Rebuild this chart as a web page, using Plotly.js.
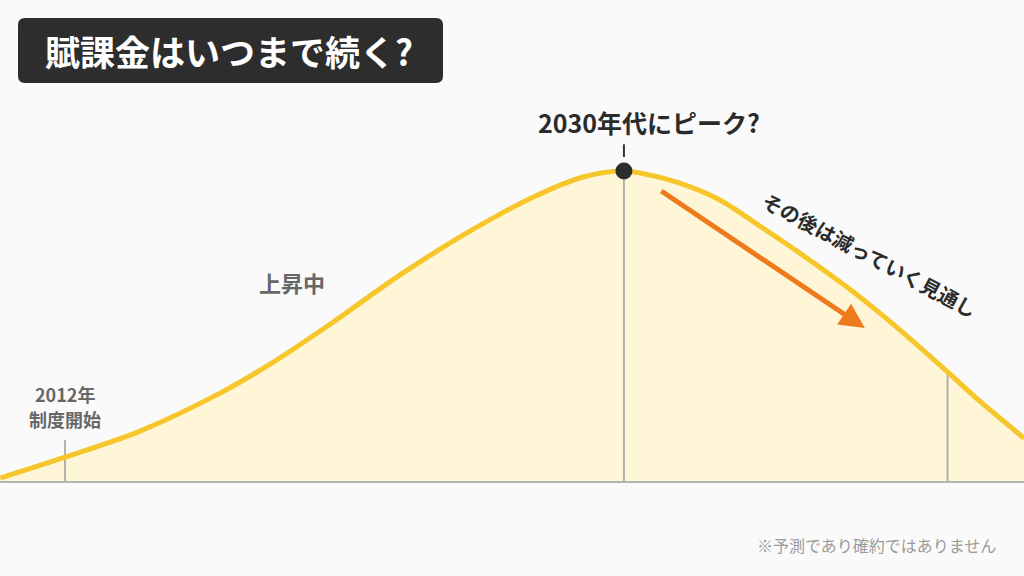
<!DOCTYPE html>
<html>
<head>
<meta charset="utf-8">
<script src="https://cdn.plot.ly/plotly-3.0.1.min.js"></script>
<style>
  html, body { margin: 0; padding: 0; background: #FAFAFA; }
  #chart { width: 1024px; height: 576px; }
</style>
</head>
<body>
<div id="chart"></div>
<script>
// ---- data ----
const years  = [2009.8, 2012.0, 2014.55, 2017.27, 2018.97, 2021.11, 2023.39, 2025.66, 2027.91, 2029.61, 2031.0, 2031.88, 2032.9, 2034.26, 2035.62, 2036.98, 2038.58, 2039.7, 2040.82, 2042.0, 2043.1, 2044.6];
const levels = [1.3, 8.0, 16.4, 28.6, 37.9, 51.4, 66.6, 80.1, 91.6, 98.1, 100, 98.7, 96.1, 90.7, 82.3, 73.6, 62.7, 54.3, 45.3, 35.4, 26.0, 14.1];
const startYear = 2012;
const startLabelTop = 13.5;
const peakYear = 2031;
const peakLevel = 100;
const laterYear = 2042;
const laterLevel = 35.4;

const titleText  = '賦課金はいつまで続く?';
const peakText   = '2030年代にピーク?';
const riseText   = '上昇中';
const startText1 = '2012年';
const startText2 = '制度開始';
const fallText   = 'その後は減っていく見通し';
const noteText   = '※予測であり確約ではありません';

// ---- helpers for pixel-placed decoration ----
const W = 1024, H = 576;
const X0 = 2009.79, X1 = 2044.60;   // x range
const Y0 = -30.2,  Y1 = 155.0;      // y range
const px = v => v / W;
const py = v => 1 - v / H;

function roundRect(x0, y0, x1, y1, r) {
  const p = [
    'M', px(x0 + r), py(y0),
    'L', px(x1 - r), py(y0),
    'Q', px(x1), py(y0), px(x1), py(y0 + r),
    'L', px(x1), py(y1 - r),
    'Q', px(x1), py(y1), px(x1 - r), py(y1),
    'L', px(x0 + r), py(y1),
    'Q', px(x0), py(y1), px(x0), py(y1 - r),
    'L', px(x0), py(y0 + r),
    'Q', px(x0), py(y0), px(x0 + r), py(y0),
    'Z'
  ];
  let s = '';
  for (let i = 0; i < p.length; i++) {
    const t = p[i];
    if (typeof t === 'string') s += t;
    else { s += t.toFixed(5); if (typeof p[i + 1] === 'number') s += ','; else s += ' '; }
  }
  return s;
}

const FONT = '"Noto Sans CJK JP", "Noto Sans", sans-serif';

const traces = [
  { // fill
    x: years, y: levels, type: 'scatter', mode: 'lines',
    line: { color: 'rgba(0,0,0,0)', width: 0, shape: 'spline', smoothing: 0.9 },
    fill: 'tozeroy', fillcolor: '#FEF6D6', hoverinfo: 'skip'
  },
  { // vertical guide lines
    x: [startYear, startYear, null, peakYear, peakYear, null, laterYear, laterYear],
    y: [0, startLabelTop, null, 0, peakLevel, null, 0, laterLevel],
    type: 'scatter', mode: 'lines',
    line: { color: '#ABABAB', width: 1.8 }, hoverinfo: 'skip'
  },
  { // curve line
    x: years, y: levels, type: 'scatter', mode: 'lines',
    line: { color: '#F6C62B', width: 5, shape: 'spline', smoothing: 0.9 },
    hoverinfo: 'skip'
  },
  { // small tick above peak
    x: [peakYear, peakYear], y: [104.5, 108.6], type: 'scatter', mode: 'lines',
    line: { color: '#333333', width: 2 }, hoverinfo: 'skip'
  },
  { // peak marker
    x: [peakYear], y: [peakLevel], type: 'scatter', mode: 'markers',
    marker: { color: '#2B2D2D', size: 17 }, hoverinfo: 'skip'
  }
];

const layout = {
  width: W, height: H,
  margin: { l: 0, r: 0, t: 0, b: 0, pad: 0 },
  paper_bgcolor: '#FAFAFA', plot_bgcolor: '#FAFAFA',
  showlegend: false,
  xaxis: { range: [X0, X1], visible: false, fixedrange: true },
  yaxis: { range: [Y0, Y1], visible: false, fixedrange: true },
  shapes: [
    { type: 'line', xref: 'paper', yref: 'y', x0: 0, x1: 1, y0: 0, y1: 0,
      line: { color: '#B3B3B3', width: 2 }, layer: 'above' },
    { type: 'path', xref: 'paper', yref: 'paper', path: roundRect(18, 18, 443, 83, 7),
      fillcolor: '#2D2D2D', line: { width: 0 }, layer: 'above' }
  ],
  annotations: [
    { xref: 'paper', yref: 'paper', x: px(229), y: py(51), xanchor: 'center', yanchor: 'middle',
      text: titleText, showarrow: false,
      font: { family: FONT, size: 35, color: '#FFFFFF', weight: 'bold' } },
    { xref: 'x', yref: 'paper', x: peakYear + 0.85, y: py(122), xanchor: 'center', yanchor: 'middle',
      text: peakText, showarrow: false,
      font: { family: FONT, size: 25, color: '#2B2B2B', weight: 'bold' } },
    { xref: 'paper', yref: 'paper', x: px(292), y: py(282), xanchor: 'center', yanchor: 'middle',
      text: riseText, showarrow: false,
      font: { family: FONT, size: 22, color: '#676767', weight: 'bold' } },
    { xref: 'x', yref: 'paper', x: startYear, y: py(394), xanchor: 'center', yanchor: 'middle',
      text: startText1, showarrow: false, align: 'center',
      font: { family: FONT, size: 18, color: '#676767', weight: 'bold' } },
    { xref: 'x', yref: 'paper', x: startYear, y: py(419), xanchor: 'center', yanchor: 'middle',
      text: startText2, showarrow: false, align: 'center',
      font: { family: FONT, size: 18, color: '#676767', weight: 'bold' } },
    { xref: 'x', yref: 'y', x: 2039.19, y: 49.5, ax: 2032.22, ay: 93.9, axref: 'x', ayref: 'y',
      text: '', showarrow: true, arrowhead: 2, arrowsize: 1, arrowwidth: 5, arrowcolor: '#EE7A1C' },
    { xref: 'paper', yref: 'paper', x: px(869), y: py(255), xanchor: 'center', yanchor: 'middle',
      text: fallText, showarrow: false, textangle: 28,
      font: { family: FONT, size: 20, color: '#2B2B2B', weight: 'bold' } },
    { xref: 'paper', yref: 'paper', x: px(998), y: py(545), xanchor: 'right', yanchor: 'middle',
      text: noteText, showarrow: false,
      font: { family: FONT, size: 16, color: '#9A9A9A' } }
  ]
};

Plotly.newPlot('chart', traces, layout, { staticPlot: true, displayModeBar: false });
</script>
</body>
</html>
